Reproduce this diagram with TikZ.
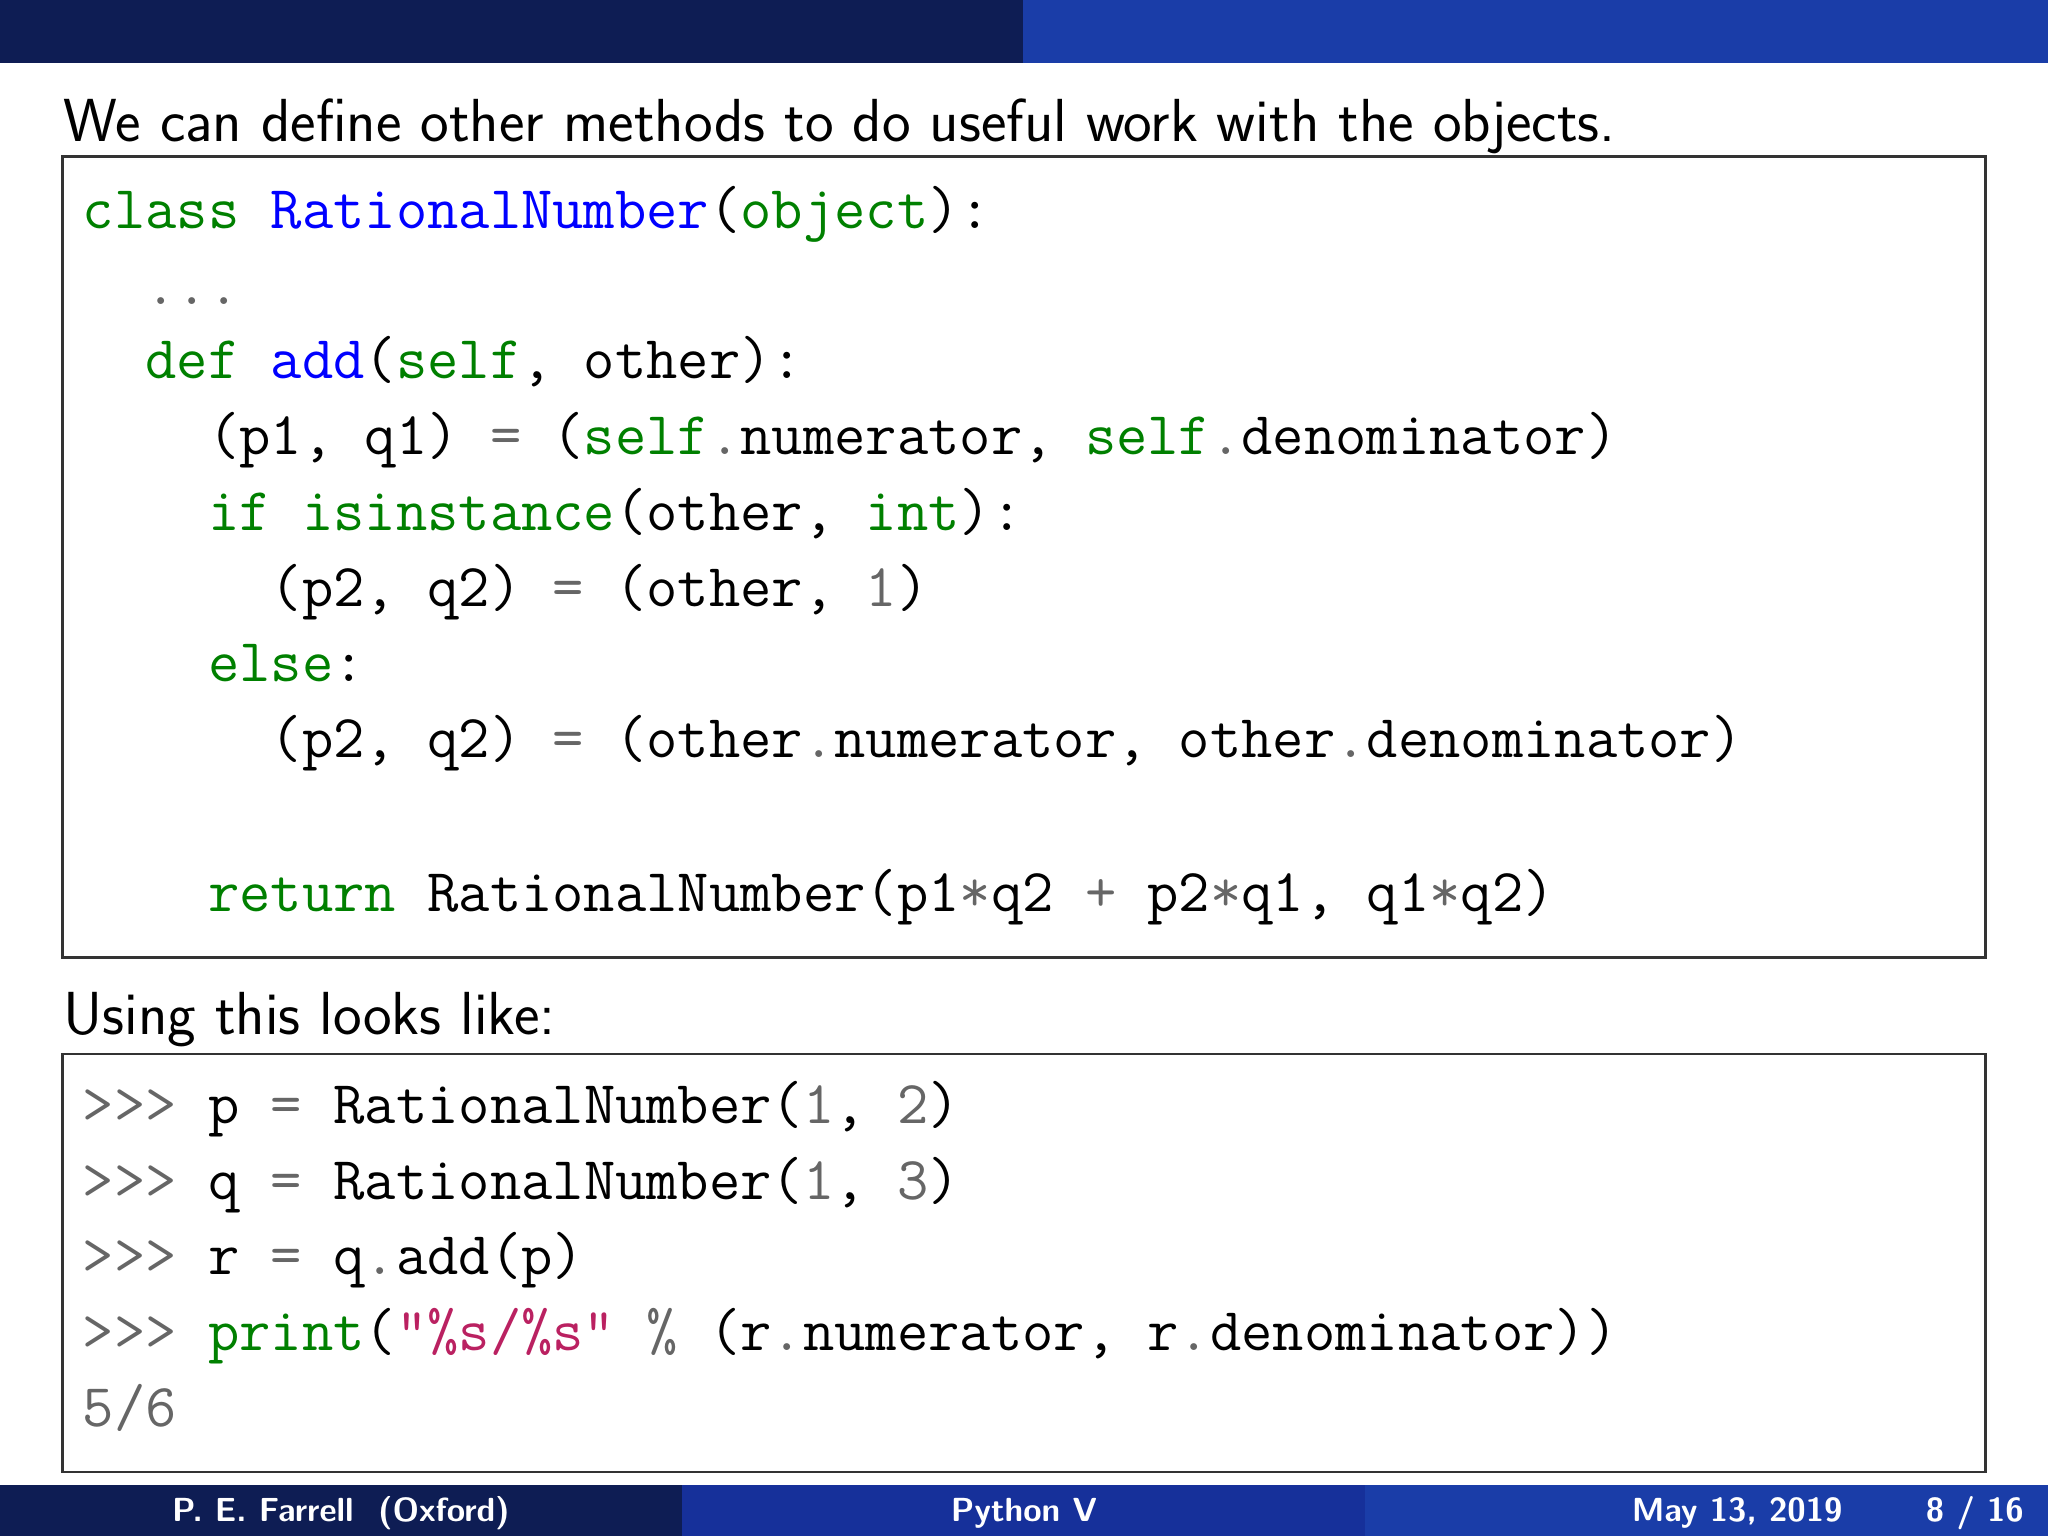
\documentclass[tikz,border=0pt]{standalone}
\usepackage{fontspec}
\definecolor{navy}{HTML}{0E1D54}
\definecolor{midblue}{HTML}{1A3DA8}
\definecolor{footA}{HTML}{0E1D54}
\definecolor{footB}{HTML}{16309A}
\definecolor{footC}{HTML}{1A3DA8}
\definecolor{kw}{HTML}{008000}
\definecolor{nm}{HTML}{0000FF}
\definecolor{op}{HTML}{666666}
\definecolor{st}{HTML}{BA2161}
\newcommand{\K}[1]{\textcolor{kw}{#1}}
\newcommand{\N}[1]{\textcolor{nm}{#1}}
\newcommand{\G}[1]{\textcolor{op}{#1}}
\newcommand{\Sx}[1]{\textcolor{st}{#1}}
\tikzset{
 codeline/.style={anchor=base west,inner sep=0pt,font=\fontsize{17.3}{20}\selectfont\ttfamily},
 prose/.style={anchor=base west,inner sep=0pt,font=\fontsize{17.3}{20}\selectfont\sffamily},
 foot/.style={anchor=base,inner sep=0pt,text=white,font=\fontsize{9.5}{11}\selectfont\sffamily\bfseries},
 codebox/.style={draw=black!80,line width=0.8pt}
}
\begin{document}
\begin{tikzpicture}[x=0.013061cm,y=-0.013061cm]
\useasboundingbox (0,0) rectangle (1568,1176);
\fill[navy] (0,0) rectangle (783,48);
\fill[midblue] (783,0) rectangle (1568,48);
\node[prose] (title) at (48,108) {We can define other methods to do useful work with the objects.};
\draw[codebox] (48,120) rectangle (1520,733);
\node[codeline] (l1) at (63,175) {\K{class} \N{RationalNumber}(\K{object}):};
\node[codeline] (l2) at (63,233) {\ \ \G{...}};
\node[codeline] (l3) at (63,290) {\ \ \K{def} \N{add}(\K{self}, other):};
\node[codeline] (l4) at (63,348) {\ \ \ \ (p1, q1) \G{=} (\K{self}\G{.}numerator, \K{self}\G{.}denominator)};
\node[codeline] (l5) at (63,406) {\ \ \ \ \K{if} \K{isinstance}(other, \K{int}):};
\node[codeline] (l6) at (63,464) {\ \ \ \ \ \ (p2, q2) \G{=} (other, \G{1})};
\node[codeline] (l7) at (63,522) {\ \ \ \ \K{else}:};
\node[codeline] (l8) at (63,580) {\ \ \ \ \ \ (p2, q2) \G{=} (other\G{.}numerator, other\G{.}denominator)};
\node[codeline] (l9) at (63,698) {\ \ \ \ \K{return} RationalNumber(p1\G{*}q2 \G{+} p2\G{*}q1, q1\G{*}q2)};
\node[prose] (using) at (48,792) {Using this looks like:};
\draw[codebox] (48,807) rectangle (1520,1127);
\node[codeline] (m1) at (63,860) {\G{>>>} p \G{=} RationalNumber(\G{1}, \G{2})};
\node[codeline] (m2) at (63,918) {\G{>>>} q \G{=} RationalNumber(\G{1}, \G{3})};
\node[codeline] (m3) at (63,976) {\G{>>>} r \G{=} q\G{.}add(p)};
\node[codeline] (m4) at (63,1034) {\G{>>>} \K{print}(\Sx{"\%s/\%s"} \G{\%} (r\G{.}numerator, r\G{.}denominator))};
\node[codeline] (m5) at (63,1092) {\G{5/6}};
\fill[footA] (0,1137) rectangle (522,1176);
\fill[footB] (522,1137) rectangle (1045,1176);
\fill[footC] (1045,1137) rectangle (1568,1176);
\node[foot] (f1) at (261,1165) {P. E. Farrell\ \ (Oxford)};
\node[foot] (f2) at (784,1165) {Python V};
\node[foot] (f3) at (1330,1165) {May 13, 2019};
\node[foot] (f4) at (1512,1165) {8 / 16};
\end{tikzpicture}
\end{document}
